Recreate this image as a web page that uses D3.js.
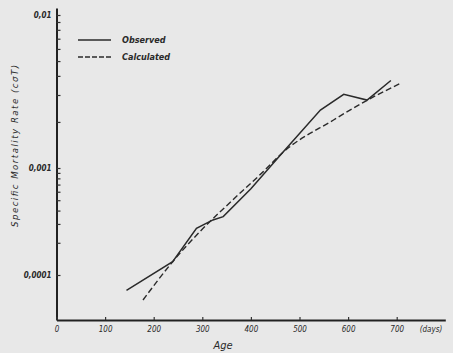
<!DOCTYPE html>
<html>
<head>
<meta charset="utf-8">
<script src="https://cdn.jsdelivr.net/npm/d3@7"></script>
<style>
  body { margin: 0; background: #e8e8e8; }
  svg { display: block; }
  text { font-family: "DejaVu Sans Condensed", "Liberation Sans Narrow", "Liberation Sans", sans-serif; font-style: italic; fill: #2a2a2a; }
</style>
</head>
<body>
<svg id="chart"></svg>
<script>
// ages in days, rates
const obsAge  = [144, 239, 288, 322, 343, 400, 464, 543, 591, 639, 688];
const obsRate = [7.2e-5, 1.33e-4, 2.73e-4, 3.27e-4, 3.51e-4, 6.4e-4, 1.25e-3, 2.39e-3, 3.03e-3, 2.78e-3, 3.73e-3];

const calcAge  = [178, 239, 295, 360, 425, 464, 570, 640, 708];
const calcRate = [5.84e-5, 1.33e-4, 2.54e-4, 4.9e-4, 9.2e-4, 1.25e-3, 2.06e-3, 2.78e-3, 3.58e-3];

const xTicks = [0, 100, 200, 300, 400, 500, 600, 700];
const yLabels = { 0.01: "0,01", 0.001: "0,001", 0.0001: "0,0001" };

const width = 453, height = 353;

const svg = d3.select("#chart")
  .attr("width", width)
  .attr("height", height);

svg.append("rect")
  .attr("width", width)
  .attr("height", height)
  .attr("fill", "#e8e8e8");

const x = d3.scaleLinear()
  .domain([0, 800])
  .range([56.5, 445.3]);

// the printed axis has unequal decades, so the log scale is piecewise
const y = d3.scaleLog()
  .domain([3.8e-5, 1e-4, 1e-3, 1e-2, 0.0111])
  .range([320, 275, 168, 15, 8]);

// minor log ticks
let yTicks = [];
[-4, -3, -2].forEach(d => {
  for (let k = 1; k <= 9; k++) {
    let v = k * Math.pow(10, d);
    if (v <= 0.0111 && v >= 1e-4) yTicks.push(+v.toPrecision(3));
  }
});

const yAxis = svg.append("g")
  .attr("transform", "translate(" + x(0) + ",0)")
  .call(d3.axisLeft(y)
    .tickValues(yTicks)
    .tickSizeInner(-4)
    .tickSizeOuter(0)
    .tickPadding(5)
    .tickFormat(d => yLabels[d] || ""));
yAxis.select(".domain").attr("stroke", "#222").attr("stroke-width", 2);
yAxis.selectAll(".tick line").attr("stroke", "#333").attr("stroke-width", 1.2);
yAxis.selectAll("text")
  .style("font-size", "8px")
  .style("font-weight", "bold")
  .attr("fill", "#333");

const xAxis = svg.append("g")
  .attr("transform", "translate(0,320)")
  .call(d3.axisBottom(x)
    .tickValues(xTicks)
    .tickSizeInner(-3)
    .tickSizeOuter(0)
    .tickPadding(6)
    .tickFormat(d3.format("d")));
xAxis.select(".domain").attr("stroke", "#222").attr("stroke-width", 2);
xAxis.selectAll(".tick line").attr("stroke", "#333").attr("stroke-width", 1.2);
xAxis.selectAll("text")
  .style("font-size", "8px")
  .attr("fill", "#333");

svg.append("text")
  .attr("x", 431)
  .attr("y", 332)
  .attr("text-anchor", "middle")
  .style("font-size", "8px")
  .text("(days)");

svg.append("text")
  .attr("x", 223)
  .attr("y", 349)
  .attr("text-anchor", "middle")
  .style("font-size", "11px")
  .text("Age");

svg.append("text")
  .attr("transform", "translate(18,146) rotate(-90)")
  .attr("text-anchor", "middle")
  .attr("textLength", 162)
  .attr("lengthAdjust", "spacing")
  .style("font-size", "9.5px")
  .attr("fill", "#444")
  .text("Specific Mortality Rate (cσT)");

const line = d3.line()
  .x(d => x(d[0]))
  .y(d => y(d[1]));

const obs = obsAge.map((a, i) => [a, obsRate[i]]);
const calc = calcAge.map((a, i) => [a, calcRate[i]]);

svg.append("path")
  .datum(obs)
  .attr("d", line)
  .attr("fill", "none")
  .attr("stroke", "#2a2a2a")
  .attr("stroke-width", 1.5);

svg.append("path")
  .datum(calc)
  .attr("d", line.curve(d3.curveMonotoneX))
  .attr("fill", "none")
  .attr("stroke", "#2a2a2a")
  .attr("stroke-width", 1.4)
  .attr("stroke-dasharray", "6,3");

// legend
const legend = svg.append("g");
[["Observed", null, 40], ["Calculated", "5,2", 57]].forEach(([name, dash, ly]) => {
  legend.append("line")
    .attr("x1", 78).attr("x2", 111)
    .attr("y1", ly).attr("y2", ly)
    .attr("stroke", "#2a2a2a")
    .attr("stroke-width", 1.5)
    .attr("stroke-dasharray", dash);
  legend.append("text")
    .attr("x", 122)
    .attr("y", ly + 3)
    .style("font-size", "9px")
    .style("font-weight", "bold")
    .text(name);
});
</script>
</body>
</html>
